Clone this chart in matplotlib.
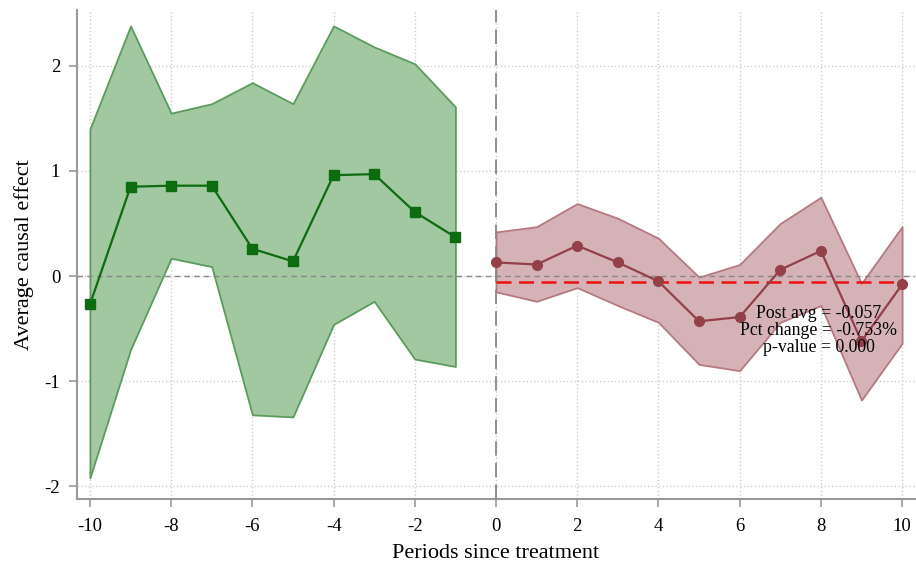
import numpy as np
import matplotlib.pyplot as plt

plt.rcParams['font.family'] = ['Liberation Serif', 'DejaVu Serif']
plt.rcParams['axes.unicode_minus'] = False

# pre-treatment periods
pre_x = [-10, -9, -8, -7, -6, -5, -4, -3, -2, -1]
pre_est = [-0.27, 0.85, 0.86, 0.86, 0.26, 0.14, 0.96, 0.97, 0.61, 0.37]
pre_hi = [1.40, 2.38, 1.55, 1.64, 1.84, 1.64, 2.38, 2.18, 2.02, 1.61]
pre_lo = [-1.92, -0.70, 0.17, 0.09, -1.32, -1.34, -0.46, -0.24, -0.79, -0.86]

# post-treatment periods
post_x = [0, 1, 2, 3, 4, 5, 6, 7, 8, 9, 10]
post_est = [0.13, 0.11, 0.29, 0.13, -0.05, -0.43, -0.39, 0.06, 0.24, -0.62, -0.08]
post_hi = [0.42, 0.47, 0.69, 0.55, 0.36, -0.01, 0.11, 0.50, 0.75, -0.07, 0.47]
post_lo = [-0.15, -0.24, -0.11, -0.28, -0.44, -0.84, -0.90, -0.44, -0.28, -1.18, -0.64]

post_avg = -0.057
stats_text = "Post avg = -0.057\nPct change = -0.753%\np-value = 0.000"

fig = plt.figure(figsize=(9.16, 5.65), dpi=100)
ax = fig.add_axes([0.084, 0.117, 0.915, 0.865])

ax.fill_between(pre_x, pre_lo, pre_hi, color='#a2c8a2', edgecolor='#5b9b5b', linewidth=1.3, zorder=2)
ax.plot(pre_x, pre_est, color='#0d6b10', marker='s', markersize=7, linewidth=1.6, zorder=4)

ax.fill_between(post_x, post_lo, post_hi, color='#d4b2b5', edgecolor='#b57a80', linewidth=1.3, zorder=2)
ax.plot(post_x, post_est, color='#934048', marker='o', markersize=7, linewidth=1.6, zorder=4)

ax.axhline(0, color='#888888', linestyle=(0, (4, 3)), linewidth=1, zorder=3)
ax.axvline(0, color='#888888', linestyle=(0, (8, 4)), linewidth=1.3, zorder=3)
ax.plot([0, 10], [post_avg, post_avg], color='#ee1111', linestyle=(0, (6, 3)), linewidth=1.8, zorder=3)

ax.text(7.94, -0.52, stats_text, ha='center', va='center', fontsize=12.8, linespacing=1.0, zorder=5)

ax.set_xlim(-10.32, 10.32)
ax.set_ylim(-2.12, 2.53)
ax.set_xticks(range(-10, 11, 2))
ax.set_yticks([-2, -1, 0, 1, 2])
ax.grid(True, color='#cccccc', linestyle=':', linewidth=1, zorder=0)
ax.set_axisbelow(True)

for s in ['top', 'right']:
    ax.spines[s].set_visible(False)
for s in ['left', 'bottom']:
    ax.spines[s].set_color('#999999')
    ax.spines[s].set_linewidth(1.5)
ax.tick_params(colors='#999999', labelcolor='black', labelsize=13.5, length=6, width=1.2)
ax.tick_params(axis='x', pad=8)
ax.tick_params(axis='y', pad=6)

ax.set_xlabel('Periods since treatment', fontsize=16, labelpad=6)
ax.set_ylabel('Average causal effect', fontsize=16, labelpad=8)

fig.savefig('out.png', dpi=100)
